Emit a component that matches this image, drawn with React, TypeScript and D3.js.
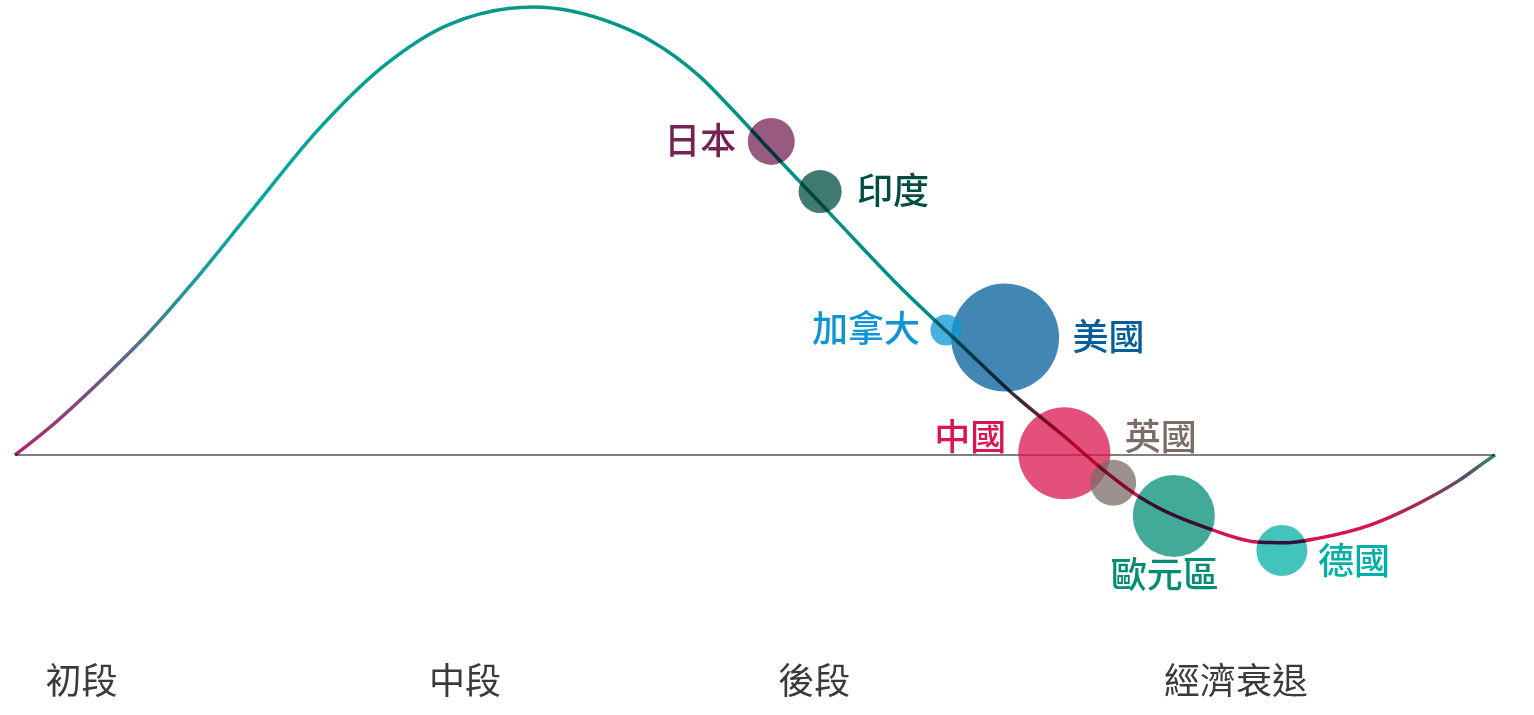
import React from 'react';
import * as d3 from 'd3';

// ---- Business-cycle curve (phase 0..100, level: 0 = baseline, 100 = peak) ----
const curvePhase = [0, 2.4, 5.7, 9.1, 12.0, 15.9, 20.4, 24.9, 29.4, 35.0, 40.7, 42.9, 46.3, 48.5, 50.8, 55.3, 59.8, 64.3, 67.2, 71.1, 73.3, 76.0, 80.9, 83.9, 85.9, 88.2, 91.6, 94.9, 97.6, 99.3, 100];
const curveLevel = [0, 6.3, 16.3, 27.5, 38.4, 54.2, 72.3, 86.8, 96.2, 100, 96.0, 92.6, 84.4, 77.0, 68.8, 53.1, 37.5, 23.4, 14.3, 3.6, -2.7, -9.4, -16.7, -19.4, -19.6, -18.5, -15.6, -10.7, -5.6, -1.6, 0];

// ---- Economies ----
const countries = ['日本', '印度', '美國', '加拿大', '中國', '英國', '歐元區', '德國'];
const countryPhase = [51.1, 54.4, 66.9, 62.9, 70.9, 74.2, 78.3, 85.6];
const countryLevel = [70.0, 58.8, 26.2, 27.9, 0.4, -6.2, -13.6, -21.3];
const countrySize = [18.9, 15.9, 100, 8.2, 72.6, 18.1, 57.6, 22.3];
const countryColors = ['#752355', '#004d43', '#035f9b', '#0d95d5', '#db1550', '#7b6c68', '#038d75', '#03b0a7'];

// ---- Stage labels ----
const stages = ['初段', '中段', '後段', '經濟衰退'];
const stagePhase = [4.5, 30.4, 54.0, 82.5];

// label placement (offset from bubble centre, px) and anchor
const labelLayout: { dx: number; dy: number; anchor: string }[] = [
  { dx: -35, dy: 12.5, anchor: 'end' },
  { dx: 37, dy: 12, anchor: 'start' },
  { dx: 67.5, dy: 12, anchor: 'start' },
  { dx: -26, dy: 11.5, anchor: 'end' },
  { dx: -58, dy: -3, anchor: 'end' },
  { dx: 11.5, dy: -32.5, anchor: 'start' },
  { dx: -9, dy: 72.5, anchor: 'middle' },
  { dx: 36, dy: 23.5, anchor: 'start' },
];

const W = 1534;
const H = 715;
const FONT = '"Noto Sans CJK TC", "Noto Sans CJK SC", "Noto Sans", sans-serif';

export default function App() {
  const x = d3.scaleLinear().domain([0, 100]).range([15, 1495]);
  const y = d3.scaleLinear().domain([0, 100]).range([455, 7]);
  const r = d3.scaleSqrt().domain([0, 100]).range([0, 54]);

  const pts: [number, number][] = curvePhase.map((p, i) => [p, curveLevel[i]]);
  const line = d3
    .line<[number, number]>()
    .x((d) => x(d[0]))
    .y((d) => y(d[1]))
    .curve(d3.curveMonotoneX);

  const stops: [number, string][] = [
    [0, '#b82068'],
    [0.06, '#6e5888'],
    [0.12, '#1b9c9c'],
    [0.17, '#03a9a1'],
    [0.3, '#009a8a'],
    [0.62, '#008f7e'],
    [0.655, '#1a5a5a'],
    [0.68, '#3a2838'],
    [0.715, '#cc1550'],
    [0.74, '#d6134f'],
    [0.92, '#d6134f'],
    [0.955, '#92305e'],
    [0.98, '#5a5066'],
    [1, '#288a80'],
  ];

  return (
    <svg
      width={W}
      height={H}
      style={{ position: 'absolute', left: 0, top: 0, background: '#fff' }}
    >
      <defs>
        <linearGradient id="cycleGrad" gradientUnits="userSpaceOnUse" x1={x(0)} y1={0} x2={x(100)} y2={0}>
          {stops.map(([o, c], i) => (
            <stop key={i} offset={o} stopColor={c} />
          ))}
        </linearGradient>
      </defs>

      <line x1={x(0)} x2={x(100)} y1={y(0)} y2={y(0)} stroke="#808080" strokeWidth={2} />

      {countries.map((c, i) => (
        <circle
          key={c}
          cx={x(countryPhase[i])}
          cy={y(countryLevel[i])}
          r={r(countrySize[i])}
          fill={countryColors[i]}
          fillOpacity={0.75}
        />
      ))}

      <path
        d={line(pts) || ''}
        fill="none"
        stroke="url(#cycleGrad)"
        strokeWidth={3.5}
        style={{ mixBlendMode: 'multiply' }}
      />

      {countries.map((c, i) => (
        <text
          key={'l' + c}
          x={x(countryPhase[i]) + labelLayout[i].dx}
          y={y(countryLevel[i]) + labelLayout[i].dy}
          textAnchor={labelLayout[i].anchor}
          fill={countryColors[i]}
          fontFamily={FONT}
          fontSize={36}
          fontWeight={500}
        >
          {c}
        </text>
      ))}

      {stages.map((s, i) => (
        <text
          key={s}
          x={x(stagePhase[i])}
          y={694}
          textAnchor="middle"
          fill="#3a3a3a"
          fontFamily={FONT}
          fontSize={36}
        >
          {s}
        </text>
      ))}
    </svg>
  );
}
